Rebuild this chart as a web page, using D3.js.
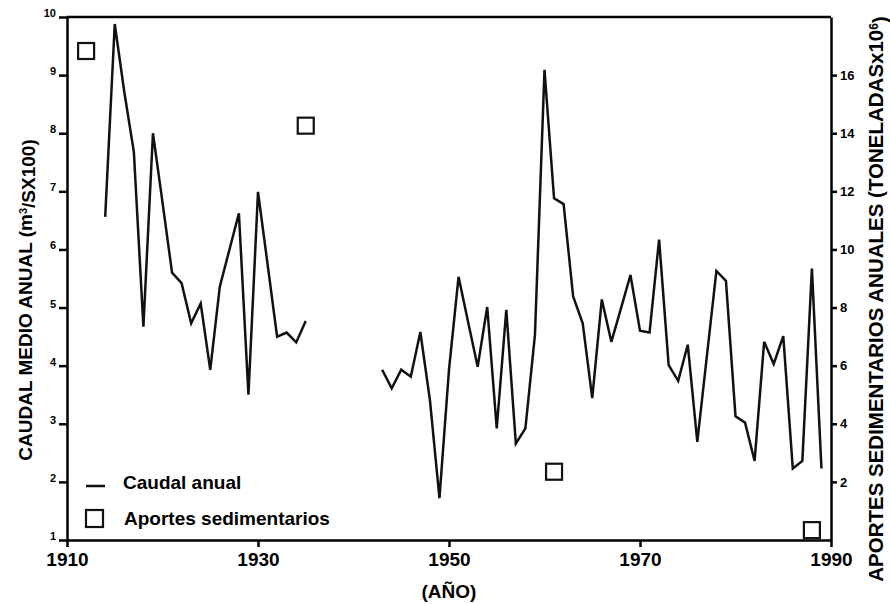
<!DOCTYPE html>
<html>
<head>
<meta charset="utf-8">
<script src="https://cdn.jsdelivr.net/npm/d3@7/dist/d3.min.js"></script>
<style>
  html, body { margin: 0; padding: 0; background: #fff; }
  svg { display: block; font-family: "Liberation Sans", Arial, Helvetica, sans-serif; font-weight: bold; }
  .axis path, .axis line { stroke: #000; stroke-width: 2.5; }
  .axis text { fill: #000; }
  .flow { fill: none; stroke: #111; stroke-width: 2.5; stroke-linejoin: miter; }
  .sed { fill: none; stroke: #111; stroke-width: 2.2; }
</style>
</head>
<body>
<div id="chart"></div>
<script>
// Caudal anual (m3/s x100), dos tramos con un hueco entre 1935 y 1943
const flowYearsA = [1914, 1915, 1916, 1917, 1918, 1919, 1920, 1921, 1922, 1923, 1924,
  1925, 1926, 1927, 1928, 1929, 1930, 1931, 1932, 1933, 1934, 1935];
const flowValuesA = [6.56, 9.88, 8.71, 7.68, 4.67, 8.0, 6.81, 5.6, 5.42, 4.73, 5.07,
  3.93, 5.36, 5.99, 6.62, 3.5, 6.99, 5.75, 4.5, 4.57, 4.4, 4.77];

const flowYearsB = [1943, 1944, 1945, 1946, 1947, 1948, 1949, 1950, 1951, 1952, 1953,
  1954, 1955, 1956, 1957, 1958, 1959, 1960, 1961, 1962, 1963, 1964, 1965, 1966, 1967,
  1968, 1969, 1970, 1971, 1972, 1973, 1974, 1975, 1976, 1977, 1978, 1979, 1980, 1981,
  1982, 1983, 1984, 1985, 1986, 1987, 1988, 1989];
const flowValuesB = [3.93, 3.61, 3.93, 3.81, 4.58, 3.41, 1.72, 3.93, 5.53, 4.75, 3.98,
  5.01, 2.92, 4.96, 2.66, 2.92, 4.53, 9.09, 6.88, 6.78, 5.19, 4.73, 3.44, 5.14, 4.41,
  4.98, 5.56, 4.6, 4.57, 6.17, 4.01, 3.74, 4.36, 2.69, 4.16, 5.63, 5.46, 3.13, 3.02,
  2.36, 4.41, 4.03, 4.51, 2.23, 2.36, 5.67, 2.23];

// Aportes sedimentarios (toneladas x10^6), eje derecho
const sedYears = [1912, 1935, 1961, 1988];
const sedValues = [16.83, 14.26, 2.35, 0.34];

// Ticks
const xTicks = [1910, 1930, 1950, 1970, 1990];
const leftTicks = [1, 2, 3, 4, 5, 6, 7, 8, 9, 10];
const rightTicks = [2, 4, 6, 8, 10, 12, 14, 16];

const W = 890, H = 604;
const margin = { top: 17, right: 59, bottom: 64, left: 67 };

const svg = d3.select('#chart').append('svg')
  .attr('width', W)
  .attr('height', H);

const x = d3.scaleLinear().domain([1910, 1990]).range([margin.left, W - margin.right]);
const yL = d3.scaleLinear().domain([1, 10]).range([H - margin.bottom, margin.top]);
const yR = d3.scaleLinear().domain([0, 18]).range([H - margin.bottom, margin.top]);

// Marco superior
svg.append('line')
  .attr('x1', x(1910)).attr('x2', x(1990))
  .attr('y1', yL(10)).attr('y2', yL(10))
  .attr('stroke', '#000').attr('stroke-width', 2.5);

// Ejes
const gx = svg.append('g').attr('class', 'axis')
  .attr('transform', `translate(0,${yL(1)})`)
  .call(d3.axisBottom(x).tickValues(xTicks).tickFormat(d3.format('d')).tickSize(7).tickSizeOuter(0).tickPadding(6));
gx.selectAll('text').style('font-size', '19px');

const gl = svg.append('g').attr('class', 'axis')
  .attr('transform', `translate(${x(1910)},0)`)
  .call(d3.axisLeft(yL).tickValues(leftTicks).tickFormat(d3.format('d')).tickSize(8).tickSizeOuter(0).tickPadding(3));
gl.selectAll('line').attr('stroke-width', 1.5);
gl.selectAll('text').style('font-size', '11px').attr('dy', '-0.05em');

const gr = svg.append('g').attr('class', 'axis')
  .attr('transform', `translate(${x(1990)},0)`)
  .call(d3.axisRight(yR).tickValues(rightTicks).tickFormat(d3.format('d')).tickSize(6).tickSizeOuter(0).tickPadding(3));
gr.selectAll('line').attr('stroke-width', 1.5);
gr.selectAll('text').style('font-size', '13px');

// Linea de caudal (dos tramos)
const line = d3.line()
  .x(d => x(d[0]))
  .y(d => yL(d[1]));

[[flowYearsA, flowValuesA], [flowYearsB, flowValuesB]].forEach(([yrs, vals]) => {
  svg.append('path')
    .datum(d3.zip(yrs, vals))
    .attr('class', 'flow')
    .attr('d', line);
});

// Cuadrados de aportes sedimentarios
const sq = 16;
svg.selectAll('.sed')
  .data(d3.zip(sedYears, sedValues))
  .enter()
  .append('rect')
  .attr('class', 'sed')
  .attr('x', d => x(d[0]) - sq / 2)
  .attr('y', d => yR(d[1]) - sq / 2)
  .attr('width', sq)
  .attr('height', sq);

// Leyenda
const legend = svg.append('g').style('font-size', '19px');
legend.append('line')
  .attr('x1', 86).attr('x2', 105).attr('y1', 486).attr('y2', 486)
  .attr('stroke', '#111').attr('stroke-width', 2.5);
legend.append('text').attr('x', 123).attr('y', 489).text('Caudal anual');
legend.append('rect')
  .attr('class', 'sed')
  .attr('x', 86).attr('y', 510).attr('width', 17).attr('height', 17);
legend.append('text').attr('x', 124).attr('y', 525).text('Aportes sedimentarios');

// Titulos de ejes
svg.append('text')
  .attr('x', x(1950)).attr('y', 598)
  .attr('text-anchor', 'middle')
  .style('font-size', '19px')
  .text('(AÑO)');

const lt = svg.append('text')
  .attr('transform', 'translate(25,300) rotate(-90)')
  .attr('text-anchor', 'middle')
  .attr('dy', '0.35em')
  .style('font-size', '19px');
lt.append('tspan').text('CAUDAL MEDIO ANUAL (m');
lt.append('tspan').attr('dy', '-0.45em').style('font-size', '11px').text('3');
lt.append('tspan').attr('dy', '0.45em').text('/SX100)');

const rt = svg.append('text')
  .attr('transform', 'translate(876,299) rotate(-90)')
  .attr('text-anchor', 'middle')
  .attr('dy', '0.35em')
  .style('font-size', '20.5px');
rt.append('tspan').text('APORTES SEDIMENTARIOS ANUALES (TONELADASx10');
rt.append('tspan').attr('dy', '-0.45em').style('font-size', '12px').text('6');
rt.append('tspan').attr('dy', '0.45em').text(')');
</script>
</body>
</html>
